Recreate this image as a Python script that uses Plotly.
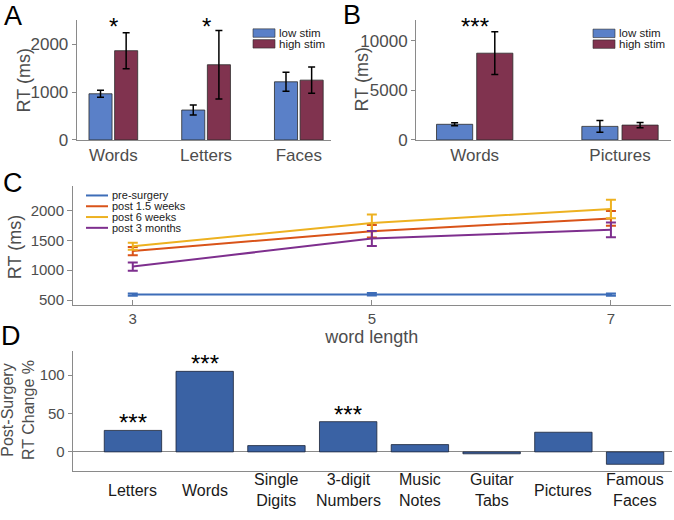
import plotly.graph_objects as go

W, H = 674, 520

# ---------------- data ----------------
# Panel A
a_categories = ["Words", "Letters", "Faces"]
a_low = [965, 625, 1215]
a_low_err = [72, 106, 200]
a_high = [1865, 1572, 1250]
a_high_err = [376, 714, 274]
a_sig = ["*", "*", ""]

# Panel B
b_categories = ["Words", "Pictures"]
b_low = [1580, 1370]
b_low_err = [150, 600]
b_high = [8760, 1500]
b_high_err = [2160, 260]
b_sig = ["***", ""]

legend_ab = ["low stim", "high stim"]

# Panel C
c_lengths = [3, 5, 7]
c_series = ["pre-surgery", "post 1.5 weeks", "post 6 weeks", "post 3 months"]
c_pre = [592, 598, 592]
c_pre_err = [20, 20, 20]
c_w15 = [1320, 1652, 1866]
c_w15_err = [70, 105, 123]
c_w6 = [1400, 1790, 2024]
c_w6_err = [60, 140, 155]
c_m3 = [1060, 1530, 1675]
c_m3_err = [68, 125, 123]

# Panel D
d_categories = ["Letters", "Words", "Single<br>Digits", "3-digit<br>Numbers",
                "Music<br>Notes", "Guitar<br>Tabs", "Pictures", "Famous<br>Faces"]
d_change = [28, 105, 8.2, 39.4, 9.5, -2.5, 25.6, -16.2]
d_sig = ["***", "***", "", "***", "", "", "", ""]

# ---------------- styles ----------------
LOW = "#5A80C8"
HIGH = "#80334F"
DBLUE = "#3A62A4"
C_COLORS = ["#3D6DB8", "#D95319", "#EDB120", "#7E2F8E"]
AXC = "#8A8A8A"
TXT = "#4D4D4D"
FONT = "Liberation Sans, Arial, Helvetica, sans-serif"


def px(xp):
    return xp / W


def py(yp):
    return 1 - yp / H


fig = go.Figure()

# Panel A bars
fig.add_trace(go.Bar(x=a_categories, y=a_low, name=legend_ab[0], xaxis="x", yaxis="y",
                     marker=dict(color=LOW, line=dict(color="#2b2b2b", width=0.8)),
                     error_y=dict(type="data", array=a_low_err, color="black", thickness=1.5, width=3.5),
                     showlegend=False))
fig.add_trace(go.Bar(x=a_categories, y=a_high, name=legend_ab[1], xaxis="x", yaxis="y",
                     marker=dict(color=HIGH, line=dict(color="#2b2b2b", width=0.8)),
                     error_y=dict(type="data", array=a_high_err, color="black", thickness=1.5, width=3.5),
                     showlegend=False))

# Panel B bars
fig.add_trace(go.Bar(x=b_categories, y=b_low, name=legend_ab[0], xaxis="x2", yaxis="y2",
                     marker=dict(color=LOW, line=dict(color="#2b2b2b", width=0.8)),
                     error_y=dict(type="data", array=b_low_err, color="black", thickness=1.5, width=3.5),
                     showlegend=False))
fig.add_trace(go.Bar(x=b_categories, y=b_high, name=legend_ab[1], xaxis="x2", yaxis="y2",
                     marker=dict(color=HIGH, line=dict(color="#2b2b2b", width=0.8)),
                     error_y=dict(type="data", array=b_high_err, color="black", thickness=1.5, width=3.5),
                     showlegend=False))

# Panel C lines
c_vals = [c_pre, c_w15, c_w6, c_m3]
c_errs = [c_pre_err, c_w15_err, c_w6_err, c_m3_err]
for name, vals, errs, col in zip(c_series, c_vals, c_errs, C_COLORS):
    fig.add_trace(go.Scatter(x=c_lengths, y=vals, name=name, mode="lines", xaxis="x3", yaxis="y3",
                             line=dict(color=col, width=2),
                             error_y=dict(type="data", array=errs, color=col, thickness=2, width=5),
                             showlegend=False))

# Panel D bars
fig.add_trace(go.Bar(x=d_categories, y=d_change, xaxis="x4", yaxis="y4", width=0.8,
                     marker=dict(color=DBLUE, line=dict(color="#1c2438", width=0.8)),
                     showlegend=False))

annotations = []
shapes = []

# panel letters
for letter, (lx, ly) in zip(["A", "B", "C", "D"], [(13, 16), (352, 15), (13, 187), (11, 343)]):
    annotations.append(dict(text=letter, x=px(lx), y=py(ly), xref="paper", yref="paper",
                            xanchor="center", yanchor="middle", showarrow=False,
                            font=dict(size=27, color="black", family=FONT)))

# y titles
for txt, (tx, ty), fs in [("RT (ms)", (24, 82), 18), ("RT (ms)", (362, 81), 18),
                          ("RT (ms)", (15, 252), 18), ("Post-Surgery<br>RT Change %", (18, 418), 16)]:
    annotations.append(dict(text=txt, x=px(tx), y=py(ty), xref="paper", yref="paper",
                            xanchor="center", yanchor="middle", showarrow=False, textangle=-90,
                            font=dict(size=fs, color=TXT, family=FONT)))

# significance stars A / B
for cat, s in zip(a_categories, a_sig):
    if s:
        annotations.append(dict(text=s, x=cat, y=0.95, xref="x", yref="y domain", showarrow=False,
                                xanchor="center", yanchor="middle", font=dict(size=24, color="black", family=FONT)))
for cat, s in zip(b_categories, b_sig):
    if s:
        annotations.append(dict(text=s, x=cat, y=0.95, xref="x2", yref="y2 domain", showarrow=False,
                                xanchor="center", yanchor="middle", font=dict(size=24, color="black", family=FONT)))

# D stars and category labels
for cat, v, s in zip(d_categories, d_change, d_sig):
    if s:
        annotations.append(dict(text=s, x=cat, y=v, xref="x4", yref="y4", showarrow=False, yshift=7.5,
                                xanchor="center", yanchor="middle", font=dict(size=24, color="black", family=FONT)))
    annotations.append(dict(text=cat, x=cat, y=py(500), xref="x4", yref="paper", showarrow=False,
                            xanchor="center", yanchor="middle", font=dict(size=16, color="#1A1A1A", family=FONT)))

# manual legends A and B
for (bx0, bx1, tx, cy0) in [(253, 275, 277, 33.7), (593, 615, 617, 34)]:
    for i, (name, col) in enumerate(zip(legend_ab, [LOW, HIGH])):
        cy = cy0 + 11 * i
        shapes.append(dict(type="rect", xref="paper", yref="paper", x0=px(bx0), x1=px(bx1),
                           y0=py(cy + 4.3), y1=py(cy - 4.3), fillcolor=col,
                           line=dict(color="#2b2b2b", width=0.6)))
        annotations.append(dict(text=name, x=px(tx), y=py(cy), xref="paper", yref="paper",
                                xanchor="left", yanchor="middle", showarrow=False,
                                font=dict(size=11.5, color="#1A1A1A", family=FONT)))

# manual legend C
for i, (name, col) in enumerate(zip(c_series, C_COLORS)):
    cy = 199.3 + 11 * i
    shapes.append(dict(type="line", xref="paper", yref="paper", x0=px(86), x1=px(108),
                       y0=py(cy), y1=py(cy), line=dict(color=col, width=2)))
    annotations.append(dict(text=name, x=px(110), y=py(cy), xref="paper", yref="paper",
                            xanchor="left", yanchor="middle", showarrow=False,
                            font=dict(size=11, color="#1A1A1A", family=FONT)))

axis_common = dict(showline=True, linecolor=AXC, linewidth=1, showgrid=False, zeroline=False,
                   tickfont=dict(size=17, color=TXT, family=FONT), tickcolor=AXC)

fig.update_layout(
    width=W, height=H, margin=dict(l=0, r=0, t=0, b=0),
    paper_bgcolor="white", plot_bgcolor="white",
    barmode="group", bargap=0.447, bargroupgap=0.1,
    font=dict(family=FONT, color=TXT),
    xaxis=dict(domain=[px(76.7), px(331)], anchor="y", type="category",
               range=[-0.395, 2.347], ticks="", **axis_common),
    yaxis=dict(domain=[py(142.7), py(20.7)], anchor="x", range=[0, 2500],
               tickvals=[0, 1000, 2000], ticks="outside", ticklen=4, **axis_common),
    xaxis2=dict(domain=[px(416), px(670.7)], anchor="y2", type="category",
                range=[-0.404, 1.349], ticks="", **axis_common),
    yaxis2=dict(domain=[py(142.7), py(20.7)], anchor="x2", range=[0, 12080],
                tickvals=[0, 5000, 10000], tickformat="d", ticks="outside", ticklen=4, **axis_common),
    xaxis3=dict(domain=[px(73), px(670.7)], anchor="y3", range=[2.5, 7.5],
                tickvals=c_lengths, ticks="inside", ticklen=5,
                title=dict(text="word length", font=dict(size=18, color=TXT, family=FONT), standoff=2),
                **{**axis_common, "tickfont": dict(size=15, color=TXT, family=FONT)}),
    yaxis3=dict(domain=[py(311), py(190)], anchor="x3", range=[418, 2402],
                tickvals=[500, 1000, 1500, 2000], ticks="outside", ticklen=5,
                **{**axis_common, "tickfont": dict(size=15, color=TXT, family=FONT)}),
    xaxis4=dict(domain=[px(72.7), px(671.7)], anchor="y4", type="category",
                range=[-0.84, 7.51], ticks="", showticklabels=False, **axis_common),
    yaxis4=dict(domain=[py(480.3), py(358.3)], anchor="x4", range=[-25, 131],
                tickvals=[0, 50, 100], ticks="outside", ticklen=4,
                **{**axis_common, "zeroline": True, "zerolinecolor": AXC, "zerolinewidth": 1,
                   "tickfont": dict(size=15, color=TXT, family=FONT)}),
    annotations=annotations, shapes=shapes,
)

fig.write_html("out.html", config={"displayModeBar": False},
               post_script="document.body.style.margin='0';document.body.style.overflow='hidden';")
